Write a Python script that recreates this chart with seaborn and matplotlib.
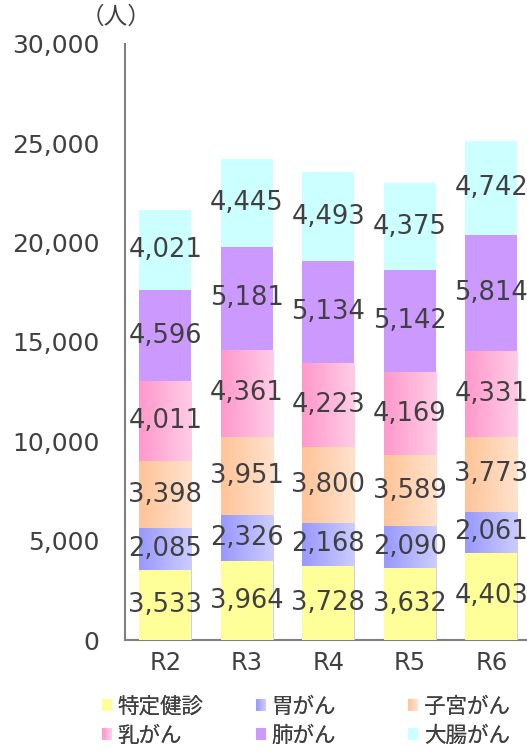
import numpy as np
import pandas as pd
import seaborn as sns
import matplotlib.pyplot as plt
from matplotlib.colors import to_rgb, LinearSegmentedColormap
from matplotlib.legend_handler import HandlerBase
from matplotlib.patches import Rectangle

years = ["R2", "R3", "R4", "R5", "R6"]
series = ["特定健診", "胃がん", "子宮がん", "乳がん", "肺がん", "大腸がん"]
kenshin = [3533, 3964, 3728, 3632, 4403]
igan = [2085, 2326, 2168, 2090, 2061]
shikyu = [3398, 3951, 3800, 3589, 3773]
nyugan = [4011, 4361, 4223, 4169, 4331]
haigan = [4596, 5181, 5134, 5142, 5814]
daicho = [4021, 4445, 4493, 4375, 4742]
yticks = [0, 5000, 10000, 15000, 20000, 25000, 30000]

# left / right colour of each layer (same colour = flat fill)
colors = {
    "特定健診": ("#FFFF99", "#FFFF99"),
    "胃がん": ("#9999FF", "#CCCCFF"),
    "子宮がん": ("#FFC499", "#FFE2CC"),
    "乳がん": ("#FF99CC", "#FFCCE6"),
    "肺がん": ("#CC99FF", "#CC99FF"),
    "大腸がん": ("#CCFFFF", "#CCFFFF"),
}

df = pd.DataFrame({"年度": years})
for name, vals in zip(series, [kenshin, igan, shikyu, nyugan, haigan, daicho]):
    df[name] = vals
cum = df[series].cumsum(axis=1)

sns.set_style("white")
plt.rcParams["font.family"] = ["DejaVu Sans", "Noto Sans CJK JP"]
text_color = "#404040"

fig = plt.figure(figsize=(5.27, 7.53), dpi=100)
ax = fig.add_axes([124.5 / 527, 1 - 640 / 753, 407.5 / 527, 596 / 753])

# cumulative trick: draw tallest first, each lower layer covers it
for k, name in enumerate(reversed(series)):
    c0, c1 = colors[name]
    n_before = len(ax.patches)
    sns.barplot(x=df["年度"], y=cum[name], color=c0, saturation=1, width=0.64,
                errorbar=None, linewidth=0, edgecolor="none", zorder=2 + k, ax=ax)
    if c0 != c1:
        cmap = LinearSegmentedColormap.from_list(name, [c0, c1])
        grad = np.linspace(0, 1, 64).reshape(1, -1)
        for p in ax.patches[n_before:]:
            x0, y0 = p.get_x(), p.get_y()
            im = ax.imshow(grad, cmap=cmap, aspect="auto", interpolation="bilinear",
                           extent=(x0, x0 + p.get_width(), y0, y0 + p.get_height()),
                           zorder=2 + k + 0.5)
            im.set_clip_path(p)

# segment labels
for name in series:
    bottoms = cum[name] - df[name]
    for i, v in enumerate(df[name]):
        ax.text(i, bottoms[i] + v / 2, f"{v:,}", ha="center", va="center",
                fontsize=18.5, color=text_color, zorder=20)

ax.set_xlim(-0.5, 4.5)
ax.set_ylim(0, 30000)
ax.set_yticks(yticks)
ax.set_yticklabels([f"{t:,}" for t in yticks])
ax.set_xlabel("")
ax.set_ylabel("")
ax.tick_params(axis="y", direction="in", length=4, width=1, color="#808080",
               labelsize=18, labelcolor=text_color, pad=18)
ax.set_xticks(np.arange(0.5, 5, 1), minor=True)
ax.tick_params(axis="x", which="major", length=0, labelsize=17.5,
               labelcolor=text_color, pad=8)
ax.tick_params(axis="x", which="minor", direction="in", length=4, width=1,
               color="#808080")
for side in ["top", "right"]:
    ax.spines[side].set_visible(False)
for side in ["left", "bottom"]:
    ax.spines[side].set_color("#808080")
    ax.spines[side].set_linewidth(1.5)

fig.text(116 / 527, 1 - 17 / 753, "（人）", ha="center", va="center",
         fontsize=17, color=text_color)


class GradHandler(HandlerBase):
    def create_artists(self, legend, orig_handle, xdescent, ydescent,
                       width, height, fontsize, trans):
        c0, c1 = orig_handle
        c0, c1 = np.array(to_rgb(c0)), np.array(to_rgb(c1))
        n = 8
        out = []
        for i in range(n):
            t = i / (n - 1)
            out.append(Rectangle((-xdescent + width * i / n, -ydescent), width / n,
                                 height, facecolor=c0 * (1 - t) + c1 * t,
                                 edgecolor="none", transform=trans))
        return out


class Grad:
    def __init__(self, c0, c1):
        self.c = (c0, c1)

    def __iter__(self):
        return iter(self.c)


columns = [("特定健診", "乳がん"), ("胃がん", "肺がん"), ("子宮がん", "大腸がん")]
col_x = [102, 256, 408]
for names, x in zip(columns, col_x):
    handles = [Grad(*colors[n]) for n in names]
    leg = fig.legend(handles, list(names), handler_map={Grad: GradHandler()},
                     loc="center left", bbox_to_anchor=(x / 527, 1 - 721 / 753),
                     frameon=False, fontsize=15.5, handlelength=0.48, handleheight=0.48,
                     handletextpad=0.25, labelspacing=0.4, borderpad=0,
                     borderaxespad=0, labelcolor=text_color)
    fig.add_artist(leg)

fig.savefig("out.png", dpi=100)
